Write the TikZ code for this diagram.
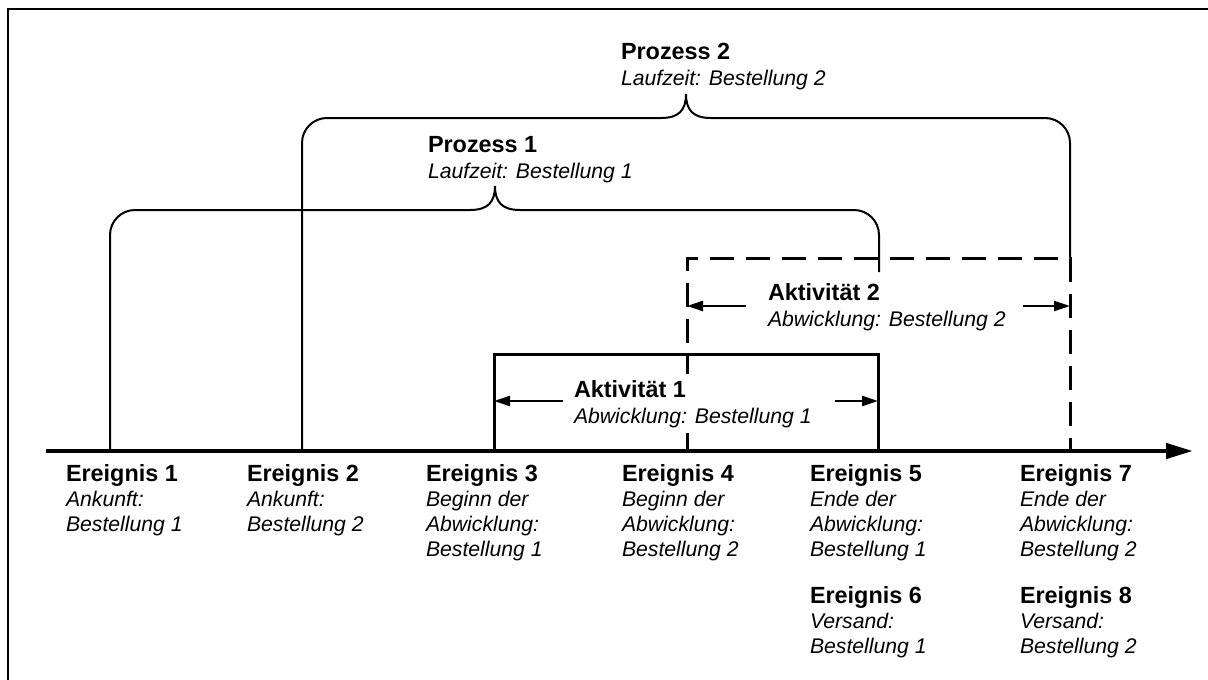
\documentclass[tikz,border=0pt]{standalone}
\usepackage{fontspec}
\setmainfont{Liberation Sans}
\usetikzlibrary{arrows.meta}
\tikzset{
  evt/.style={anchor=base west, inner sep=0pt, outer sep=0pt, align=left,
    font=\fontsize{21.2}{25}\selectfont\itshape},
  lbl/.style={anchor=base west, inner sep=0pt, outer sep=0pt, align=left,
    font=\fontsize{21.2}{26}\selectfont\itshape},
  brk/.style={line width=2pt},
  actbox/.style={line width=3pt},
  actarr/.style={line width=2.5pt, -{Triangle[length=16pt,width=10pt]}},
  axisline/.style={line width=4.5pt, -{Triangle[length=27pt,width=15pt]}},
}
\newcommand{\hd}[1]{{\fontsize{23.4}{25}\selectfont\upshape\bfseries #1}}
\begin{document}
\begin{tikzpicture}[x=1pt,y=-1pt]
\useasboundingbox (0,0) rectangle (1208,680);
% frame
\draw[line width=2pt] (8,680) -- (8,9) -- (1208,9);

% coordinates on the axis
\coordinate (axL) at (46,451);
\coordinate (axR) at (1193,451);
\coordinate (t1) at (110,451);
\coordinate (t2) at (302,451);
\coordinate (t3) at (494,451);
\coordinate (t4) at (687,451);
\coordinate (t5) at (878,451);
\coordinate (t7) at (1070,451);

% Prozess 1 bracket
\draw[brk] (t1) -- (110,235) arc[start angle=180,end angle=270,radius=25]
  -- (470,210) .. controls (488,210) and (495,202) .. (495,186)
  .. controls (495,202) and (502,210) .. (520,210)
  -- (854,210) arc[start angle=270,end angle=360,radius=25] -- (879,272);
% Prozess 2 bracket
\draw[brk] (t2) -- (302,143) arc[start angle=180,end angle=270,radius=25]
  -- (661,118) .. controls (679,118) and (686,110) .. (686,94)
  .. controls (686,110) and (693,118) .. (711,118)
  -- (1045,118) arc[start angle=270,end angle=360,radius=25] -- (1070,258);

% Aktivität 1 box
\draw[actbox] (t3) -- (494,354) -- (878,354) -- (t5);
% Aktivität 2 dashed box
\draw[actbox, dash pattern=on 24pt off 12pt] (t4) -- (687,258) -- (1070,258) -- (t7);

% axis
\draw[axisline] (axL) -- (axR);

% activity arrows
\coordinate (a1l) at (563,401);
\coordinate (a1r) at (835,401);
\coordinate (a2l) at (746,306);
\coordinate (a2r) at (1023,306);
\draw[actarr] (a1l) -- (494,401);
\draw[actarr] (a1r) -- (878,401);
\draw[actarr] (a2l) -- (687,306);
\draw[actarr] (a2r) -- (1070,306);

% labels (anchor = baseline of the last line)
\node[lbl] (p2) at (621,85) {\hd{Prozess 2}\\Laufzeit: Bestellung 2};
\node[lbl] (p1) at (428,178) {\hd{Prozess 1}\\Laufzeit: Bestellung 1};
\node[lbl] (ac2) at (768,326) {\hd{Aktivität 2}\\Abwicklung: Bestellung 2};
\node[lbl, fill=white, inner ysep=6pt] (ac1) at (574,423) {\hd{Aktivität 1}\\Abwicklung: Bestellung 1};

% events
\node[evt] (e1) at (66,531) {\hd{Ereignis 1}\\Ankunft:\\Bestellung 1};
\node[evt] (e2) at (247,531) {\hd{Ereignis 2}\\Ankunft:\\Bestellung 2};
\node[evt] (e3) at (426,556) {\hd{Ereignis 3}\\Beginn der\\Abwicklung:\\Bestellung 1};
\node[evt] (e4) at (622,556) {\hd{Ereignis 4}\\Beginn der\\Abwicklung:\\Bestellung 2};
\node[evt] (e5) at (810,556) {\hd{Ereignis 5}\\Ende der\\Abwicklung:\\Bestellung 1};
\node[evt] (e7) at (1020,556) {\hd{Ereignis 7}\\Ende der\\Abwicklung:\\Bestellung 2};
\node[evt] (e6) at (810,653) {\hd{Ereignis 6}\\Versand:\\Bestellung 1};
\node[evt] (e8) at (1020,653) {\hd{Ereignis 8}\\Versand:\\Bestellung 2};
\end{tikzpicture}
\end{document}
